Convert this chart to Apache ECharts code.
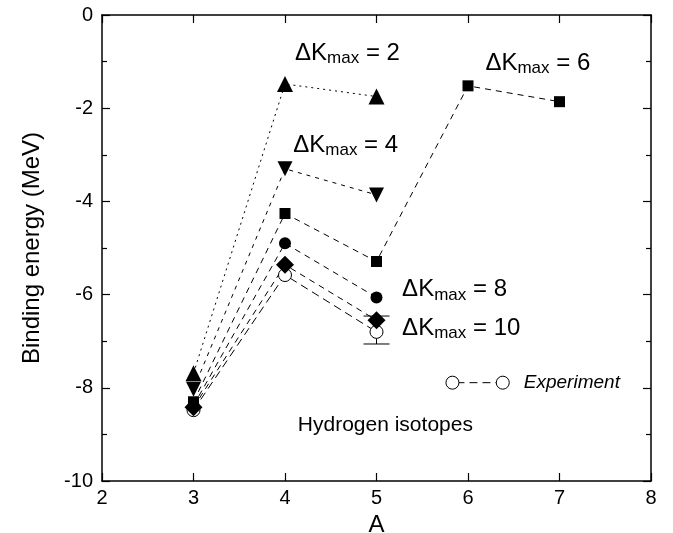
<!DOCTYPE html>
<html>
<head>
<meta charset="utf-8">
<script src="https://cdn.jsdelivr.net/npm/echarts@6/dist/echarts.min.js"></script>
<style>
html, body { margin: 0; padding: 0; background: #fff; }
#chart { width: 673px; height: 533px; }
</style>
</head>
<body>
<div id="chart"></div>
<script>
// mass number A of the hydrogen isotopes
var massNumbers = [3, 4, 5, 6, 7];

// binding energy (MeV) for each truncation dK_max
var dk2 = [-7.69, -1.48, -1.75];
var dk4 = [-8.03, -3.30, -3.86];
var dk6 = [-8.30, -4.26, -5.29, -1.52, -1.86];
var dk8 = [-8.38, -4.90, -6.06];
var dk10 = [-8.42, -5.36, -6.55];
var experiment = [-8.48, -5.58, -6.80];
// error bar on the 5H measurement: [A, low, high]
var exptError = [[5, -7.06, -6.46]];

var xTicks = [2, 3, 4, 5, 6, 7, 8];
var yTicks = [-10, -8, -6, -4, -2, 0];

var FONT = '"Liberation Sans", Arial, sans-serif';

function pairs(values) {
    return values.map(function (v, i) { return [massNumbers[i], v]; });
}

function curve(values, symbol, size, dash, extra) {
    var s = {
        type: 'line',
        data: pairs(values),
        symbol: symbol,
        symbolSize: size,
        itemStyle: { color: '#000', borderWidth: 0 },
        lineStyle: { color: '#000', width: 1, type: dash },
        silent: true
    };
    for (var k in extra) s[k] = extra[k];
    return s;
}

var axisBase = {
    type: 'value',
    axisLine: { show: true, onZero: false, lineStyle: { color: '#000', width: 1.5 } },
    axisTick: { show: true, inside: true, length: 8, lineStyle: { color: '#000', width: 1.2 } },
    splitLine: { show: false },
    axisLabel: { color: '#000', fontSize: 20, fontFamily: FONT }
};

function axis(extra) {
    var a = JSON.parse(JSON.stringify(axisBase));
    for (var k in extra) a[k] = extra[k];
    return a;
}

var chart = echarts.init(document.getElementById('chart'), null, { renderer: 'canvas' });

var option = {
    animation: false,
    backgroundColor: '#fff',
    grid: { left: 102, right: 22, top: 15, bottom: 52, containLabel: false, outerBoundsMode: 'none' },
    xAxis: [
        axis({
            position: 'bottom', min: xTicks[0], max: xTicks[xTicks.length - 1], interval: 1,
            name: 'A', nameLocation: 'middle', nameGap: 30,
            nameTextStyle: { color: '#000', fontSize: 24, fontFamily: FONT },
            axisLabel: { color: '#000', fontSize: 20, fontFamily: FONT, margin: 7 }
        }),
        axis({
            position: 'top', min: xTicks[0], max: xTicks[xTicks.length - 1], interval: 1,
            axisLabel: { show: false }
        })
    ],
    yAxis: [
        axis({
            position: 'left', min: yTicks[0], max: yTicks[yTicks.length - 1], interval: 2,
            minorTick: { show: true, splitNumber: 2, length: 5, lineStyle: { color: '#000', width: 1.2 } },
            name: 'Binding energy (MeV)', nameLocation: 'middle', nameGap: 58,
            nameTextStyle: { color: '#000', fontSize: 24, fontFamily: FONT },
            axisLabel: { color: '#000', fontSize: 20, fontFamily: FONT, margin: 9 }
        }),
        axis({
            position: 'right', min: yTicks[0], max: yTicks[yTicks.length - 1], interval: 2,
            minorTick: { show: true, splitNumber: 2, length: 5, lineStyle: { color: '#000', width: 1.2 } },
            axisLabel: { show: false }
        })
    ],
    series: [
        {
            type: 'custom',
            data: exptError,
            encode: { x: 0, y: [1, 2] },
            silent: true,
            z: 1,
            renderItem: function (params, api) {
                var x = api.value(0);
                var lo = api.coord([x, api.value(1)]);
                var hi = api.coord([x, api.value(2)]);
                var half = 13;
                var st = { stroke: '#000', lineWidth: 1 };
                return {
                    type: 'group',
                    children: [
                        { type: 'line', shape: { x1: lo[0], y1: lo[1], x2: hi[0], y2: hi[1] }, style: st },
                        { type: 'line', shape: { x1: lo[0] - half, y1: lo[1], x2: lo[0] + half, y2: lo[1] }, style: st },
                        { type: 'line', shape: { x1: hi[0] - half, y1: hi[1], x2: hi[0] + half, y2: hi[1] }, style: st }
                    ]
                };
            }
        },
        curve(experiment, 'circle', 13, [8, 5], {
            itemStyle: { color: '#fff', borderColor: '#000', borderWidth: 1 }
        }),
        curve(dk10, 'diamond', 18, [6, 5]),
        curve(dk8, 'circle', 12, [6, 5]),
        curve(dk6, 'rect', 11, [6, 5]),
        curve(dk4, 'triangle', 15, [4, 5], { symbolRotate: 180 }),
        curve(dk2, 'triangle', 16, [2, 4])
    ]
};

chart.setOption(option);

// annotations, anchored in data coordinates
function at(pos) {
    return chart.convertToPixel({ gridIndex: 0 }, pos);
}

function dkLabel(n, pos) {
    var p = at(pos);
    return {
        type: 'text', x: p[0], y: p[1], silent: true,
        style: {
            text: '{a|\u0394K}{b|max}{a| = ' + n + '}',
            align: 'left', verticalAlign: 'middle',
            fill: '#000',
            rich: {
                a: { fontSize: 24, fontFamily: FONT, lineHeight: 26, verticalAlign: 'top', fill: '#000' },
                b: { fontSize: 17, fontFamily: FONT, lineHeight: 8, verticalAlign: 'bottom', fill: '#000' }
            }
        }
    };
}

var c1 = at([5.83, -7.89]);
var c2 = at([6.38, -7.89]);
var tx = at([6.61, -7.89]);
var hy = at([4.14, -8.80]);

chart.setOption({
    graphic: [
        dkLabel(2, [4.11, -0.84]),
        dkLabel(4, [4.09, -2.81]),
        dkLabel(6, [6.19, -1.05]),
        dkLabel(8, [5.28, -5.92]),
        dkLabel(10, [5.28, -6.74]),
        {
            type: 'text', x: hy[0], y: hy[1], silent: true,
            style: { text: 'Hydrogen isotopes', fill: '#000', fontSize: 21, fontFamily: FONT, align: 'left', verticalAlign: 'middle' }
        },
        {
            type: 'line', silent: true,
            shape: { x1: c1[0], y1: c1[1], x2: c2[0], y2: c2[1] },
            style: { stroke: '#000', lineWidth: 1, lineDash: [8, 5], lineDashOffset: -4 }
        },
        { type: 'circle', silent: true, shape: { cx: c1[0], cy: c1[1], r: 6.5 }, style: { fill: '#fff', stroke: '#000', lineWidth: 1 } },
        { type: 'circle', silent: true, shape: { cx: c2[0], cy: c2[1], r: 6.5 }, style: { fill: '#fff', stroke: '#000', lineWidth: 1 } },
        {
            type: 'text', x: tx[0], y: tx[1], silent: true,
            style: { text: 'Experiment', fill: '#000', fontSize: 19, fontStyle: 'italic', fontFamily: FONT, align: 'left', verticalAlign: 'middle' }
        }
    ]
});

window.onresize = function () { chart.resize(); };
</script>
</body>
</html>
